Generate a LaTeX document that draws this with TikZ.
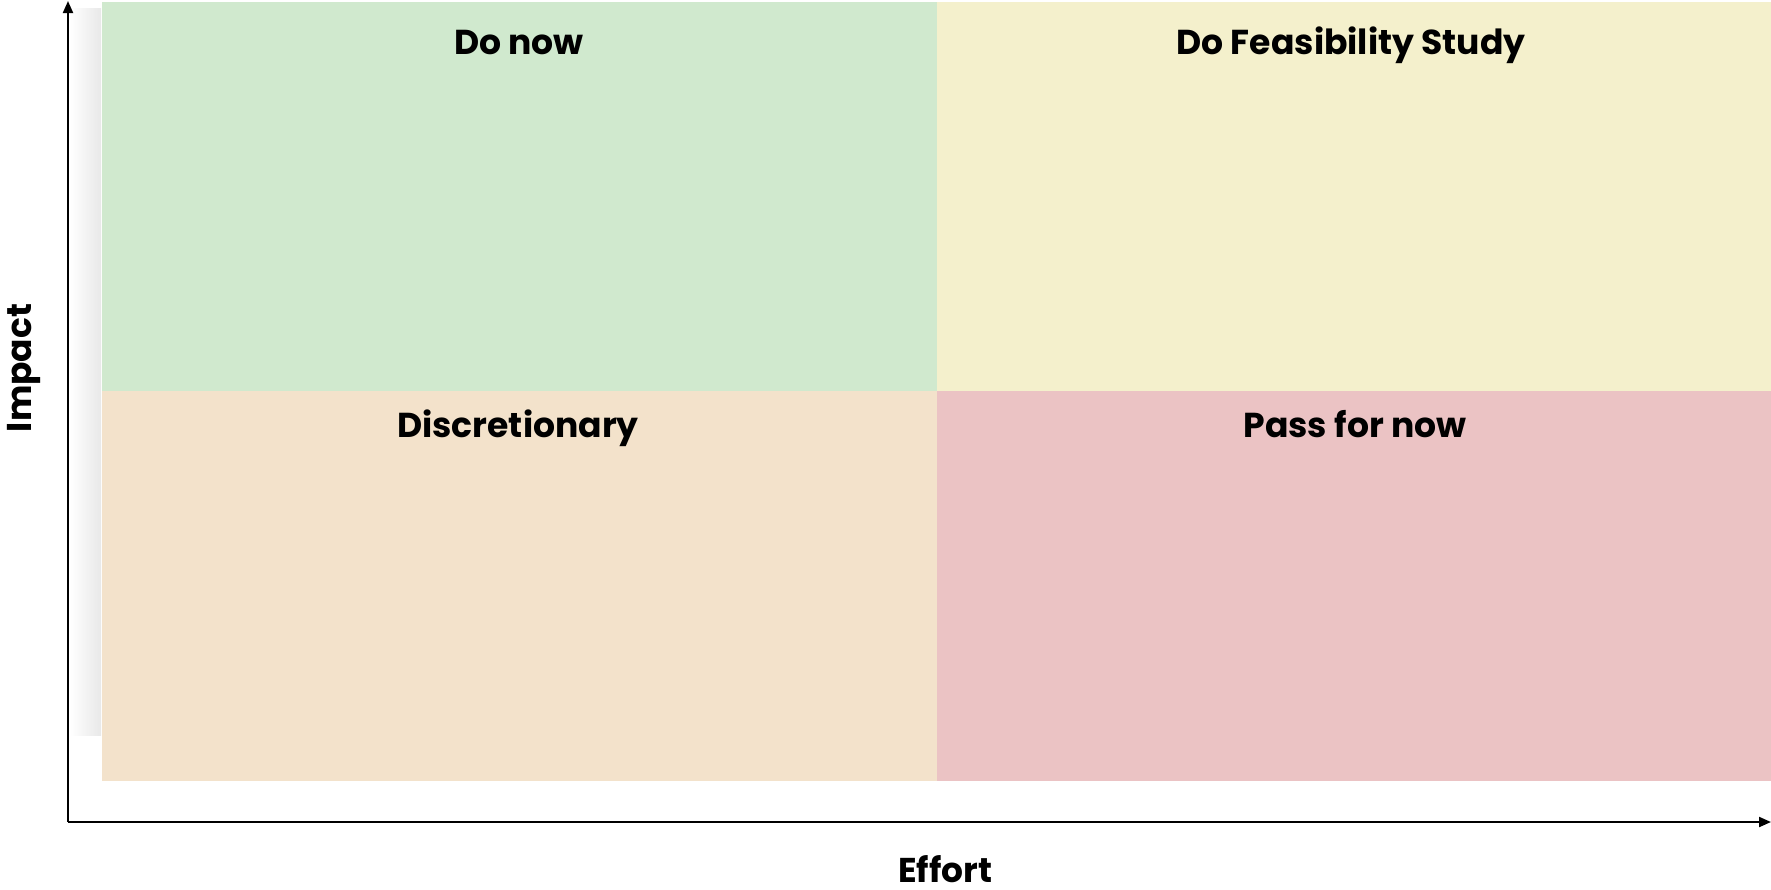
\documentclass[tikz,border=0pt]{standalone}
\usepackage{fontspec}
\setmainfont{Poppins}[BoldFont={* Bold}]
\usetikzlibrary{arrows.meta}

\definecolor{donow}{RGB}{208,233,206}
\definecolor{feasible}{RGB}{244,240,204}
\definecolor{discret}{RGB}{243,226,203}
\definecolor{passnow}{RGB}{235,195,196}

\tikzset{
  axis/.style={line width=1pt, black, -{Triangle[length=6pt, width=5pt]}},
  quadlabel/.style={anchor=base, font=\bfseries\fontsize{17.3}{20}\selectfont},
  axislabel/.style={anchor=base, font=\bfseries\fontsize{17.2}{20}\selectfont}
}

\begin{document}
\begin{tikzpicture}[x=0.5pt, y=-0.5pt]
      \useasboundingbox (0,0) rectangle (1771,889);
      % soft shadow left of the grid
      \shade[left color=white, right color=black!9] (70,8) rectangle (101,735);
      % the four quadrants
      \fill[donow]    (102,2)   rectangle (937,391);
      \fill[feasible] (937,2)   rectangle (1771,391);
      \fill[discret]  (102,391) rectangle (937,781);
      \fill[passnow]  (937,391) rectangle (1771,781);
      \node[quadlabel] (donow)    at (519,54)   {Do now};
      \node[quadlabel] (feasible) at (1351,54)  {Do Feasibility Study};
      \node[quadlabel] (discret)  at (518,437)  {Discretionary};
      \node[quadlabel] (passnow)  at (1355,437) {Pass for now};
      % axes
      \coordinate (origin) at (68,822);
      \coordinate (xend) at (1771,822);
      \coordinate (yend) at (68,1);
      \draw[axis] (origin) -- (xend);
      \draw[axis] (origin) -- (yend);
      \node[axislabel] (effort) at (945,882) {Effort};
      \node[axislabel, rotate=90] (impact) at (32,368) {Impact};
\end{tikzpicture}
\end{document}
